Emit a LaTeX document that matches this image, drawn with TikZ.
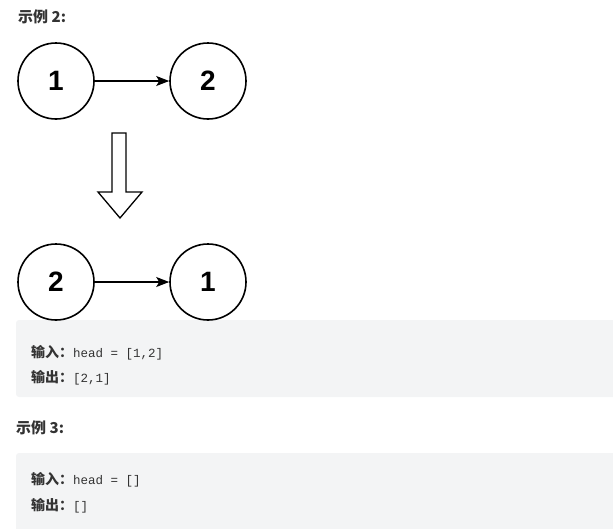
\documentclass[tikz,border=0pt]{standalone}
\usepackage{fontspec}
\usepackage{xcolor}
\setmainfont{Liberation Sans}
\setmonofont{Liberation Mono}
\newfontfamily\cjk{Noto Sans CJK SC}
\usetikzlibrary{arrows.meta,positioning}
\definecolor{txtgray}{HTML}{333333}
\definecolor{boxgray}{HTML}{F3F4F5}
\newcommand{\cjklbl}[1]{{\fontsize{14}{15}\selectfont\cjk\bfseries #1}}

\begin{document}
\begin{tikzpicture}[x=1pt,y=-1pt,>={Stealth[length=13pt,width=10pt,inset=3pt]},
  nd/.style={draw,circle,line width=1.6pt,minimum size=76pt,inner sep=0pt,
    font=\fontsize{28}{28}\selectfont\bfseries},
  head/.style={anchor=base west,inner sep=0pt,text=txtgray,
    font=\fontsize{15}{16}\selectfont\cjk\bfseries},
  code/.style={anchor=base west,inner sep=0pt,text=txtgray,
    font=\fontsize{12.5}{15}\selectfont\ttfamily},
  panel/.style={fill=boxgray,rounded corners=3pt}]
  \useasboundingbox (0,0) rectangle (613,528);
  % grey panels
  \fill[panel] (16,320) rectangle (625,397);
  \fill[panel] (16,453) rectangle (625,540);
  % headings
  \node[head] (h2) at (18,22) {示例 2:};
  \node[head] (h3) at (16,433) {示例 3:};
  % before
  \node[nd] (a1) at (56,81) {1};
  \node[nd] (a2) at (208,81) {2};
  \draw[->,line width=1.2pt] (a1) -- (a2);
  % hollow arrow
  \draw[line width=1.3pt,line join=miter]
    (112,133) -- (126,133) -- (126,192) -- (142,192) -- (120,218)
    -- (98,192) -- (112,192) -- cycle;
  % after
  \node[nd] (b2) at (56,282) {2};
  \node[nd] (b1) at (208,282) {1};
  \draw[->,line width=1.2pt] (b2) -- (b1);
  % example 2 text
  \node[code] (in2) at (31,357) {\cjklbl{输入：}head = [1,2]};
  \node[code] (out2) at (31,382) {\cjklbl{输出：}[2,1]};
  % example 3 text
  \node[code] (in3) at (31,484) {\cjklbl{输入：}head = []};
  \node[code] (out3) at (31,510) {\cjklbl{输出：}[]};
\end{tikzpicture}
\end{document}
